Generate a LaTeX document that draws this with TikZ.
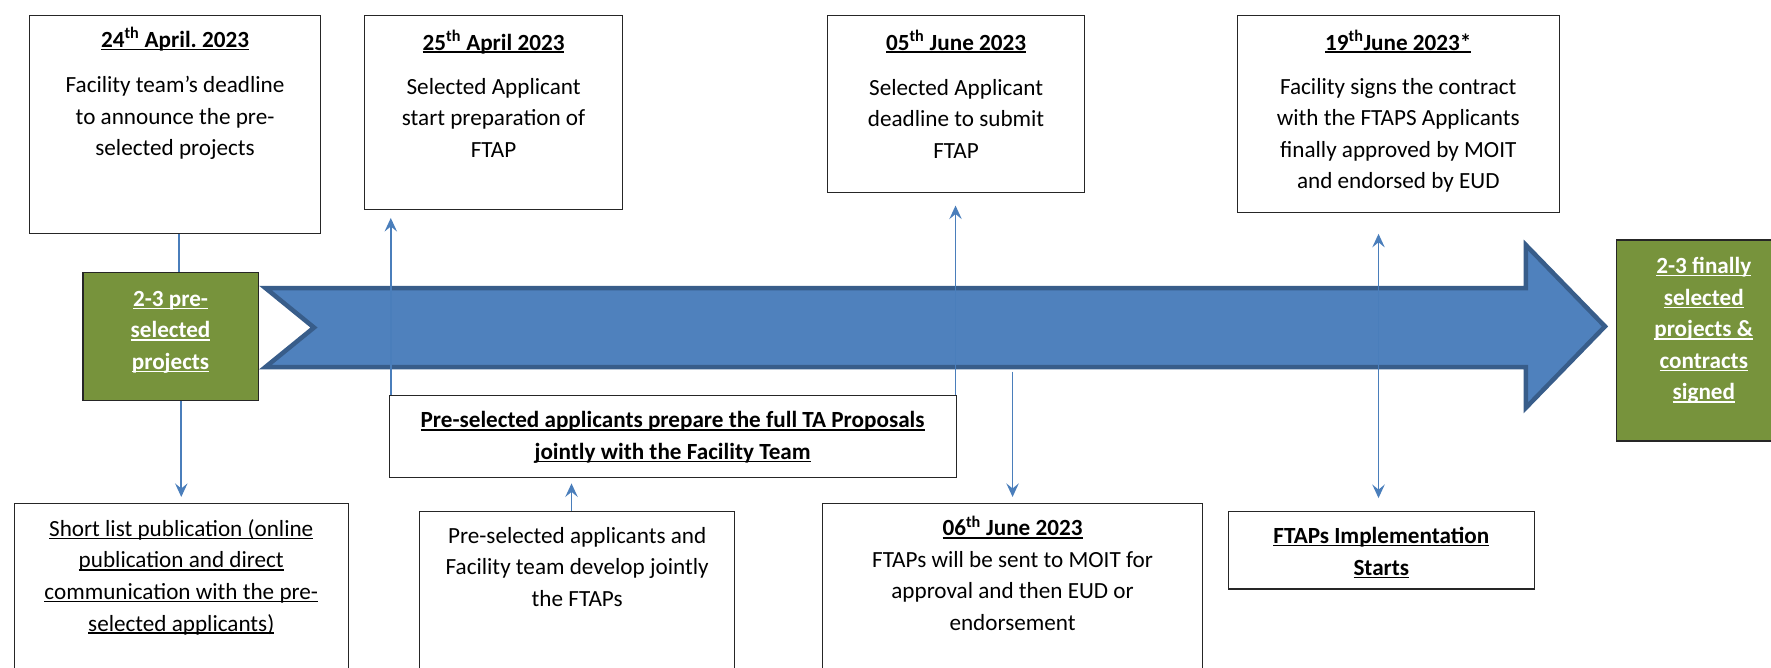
\documentclass[tikz,border=0pt]{standalone}
\usepackage{fontspec}
\setmainfont{Carlito}
\usepackage{tikz}
\usetikzlibrary{arrows.meta,positioning}
\definecolor{bandblue}{HTML}{4F81BD}
\definecolor{banddark}{HTML}{385D8A}
\definecolor{leafgreen}{HTML}{77933C}
\definecolor{linkblue}{HTML}{4A7EBB}
\tikzset{
  card/.style={draw=black!85,line width=1pt,anchor=north west,inner sep=0pt},
  leaf/.style={card,fill=leafgreen},
  txt/.style={inner sep=0pt,align=center,font=\fontsize{20.5}{28}\selectfont},
  link/.style={draw=linkblue,line width=1.4pt},
  arrow/.style={link,-{Stealth[length=12pt,width=11pt,inset=4.5pt]}}
}
\frenchspacing
\newcommand{\undl}[1]{\sbox0{#1}\rlap{\rule[-2.6pt]{\wd0}{1.3pt}}\usebox0}
\newcommand{\bul}[1]{\undl{\textbf{#1}}}
\newcommand{\dated}[2]{\undl{\textbf{#1\textsuperscript{th}#2}}}

\begin{document}
\begin{tikzpicture}[x=1pt,y=-1pt]
  % Page window
  \useasboundingbox (0,0) rectangle (1568,591);

  % Timeline band
  \draw[fill=bandblue,draw=banddark,line width=4pt,line join=miter]
    (235,255) -- (1351,255) -- (1351,217) -- (1421,289) -- (1351,361) -- (1351,325)
    -- (235,325) -- (278,290) -- cycle;
  \coordinate (band-bot) at (600,329);

  % Milestones above the band
  \node[card,minimum width=257pt,minimum height=193pt] (apr24) at (26,13) {};
  \node[txt,below=11pt of apr24.north] (apr24-txt)
    {\dated{24}{ April.\ 2023}\\[12pt] Facility team’s deadline\\ to announce the pre-\\ selected projects};

  \node[card,minimum width=229pt,minimum height=172pt] (apr25) at (322,13) {};
  \node[txt,below=13.5pt of apr25.north] (apr25-txt)
    {\dated{25}{ April 2023}\\[11pt] Selected Applicant\\ start preparation of\\ FTAP};

  \node[card,minimum width=228pt,minimum height=157pt] (jun05) at (732,13) {};
  \node[txt,below=13.5pt of jun05.north] (jun05-txt)
    {\dated{05}{ June 2023}\\[12pt] Selected Applicant\\ deadline to submit\\ FTAP};

  \node[card,minimum width=285pt,minimum height=175pt] (jun19) at (1095,13) {};
  \node[txt,below=13.5pt of jun19.north] (jun19-txt)
    {\dated{19}{June 2023*}\\[11pt] Facility signs the contract\\ with the FTAPS Applicants\\
     finally approved by MOIT\\ and endorsed by EUD};

  % Start and end of the band
  \node[leaf,minimum width=155pt,minimum height=113pt] (preproj) at (73,241) {};
  \node[txt,text=white,below=16.5pt of preproj.north] (preproj-txt)
    {\bul{2-3 pre-}\\ \bul{selected}\\ \bul{projects}};

  \node[leaf,minimum width=154pt,minimum height=178pt] (finalproj) at (1431,212) {};
  \node[txt,text=white,below=15.5pt of finalproj.north] (finalproj-txt)
    {\bul{2-3 finally}\\ \bul{selected}\\ \bul{projects \&}\\ \bul{contracts}\\ \bul{signed}};

  % Steps below the band
  \node[card,minimum width=296pt,minimum height=160pt] (shortlist) at (12,445) {};
  \node[txt,below=14.5pt of shortlist.north] (shortlist-txt)
    {\undl{Short list publication (online}\\ \undl{publication and direct}\\
     \undl{communication with the pre-}\\ \undl{selected applicants)}};

  \node[card,minimum width=502pt,minimum height=72pt] (prepare) at (344,350) {};
  \node[txt,below=14pt of prepare.north] (prepare-txt)
    {\bul{Pre-selected applicants prepare the full TA Proposals}\\ \bul{jointly with the Facility Team}};

  \node[card,minimum width=279pt,minimum height=150pt] (develop) at (371,452) {};
  \node[txt,below=14.5pt of develop.north] (develop-txt)
    {Pre-selected applicants and\\ Facility team develop jointly\\ the FTAPs};

  \node[card,minimum width=336pt,minimum height=160pt] (jun06) at (728,445) {};
  \node[txt,below=11.5pt of jun06.north] (jun06-txt)
    {\dated{06}{ June 2023}\\ FTAPs will be sent to MOIT for\\ approval and then EUD or\\ endorsement};

  \node[card,minimum width=271pt,minimum height=69pt] (implement) at (1087,452) {};
  \node[txt,below=14.5pt of implement.north] (implement-txt)
    {\bul{FTAPs Implementation}\\ \bul{Starts}};

  % Connectors
  \draw[link] ([xshift=3.5pt]apr24.south) -- ([xshift=3.5pt]apr24.south |- preproj.north);
  \draw[arrow,shorten >=5pt] (preproj.south -| shortlist.north) -- (shortlist.north);
  \draw[arrow,shorten >=7pt] ([xshift=2pt]prepare.north west) -- ([xshift=2pt]prepare.north west |- apr25.south);
  \draw[arrow,shorten >=11pt] ([xshift=-1pt]prepare.north east) -- ([xshift=-1pt]prepare.north east |- jun05.south);
  \draw[arrow,shorten >=5pt] ([xshift=-5pt]develop.north) -- ([xshift=-5pt]develop.north |- prepare.south);
  \draw[arrow,shorten >=5pt] (band-bot -| jun06.north) -- (jun06.north);
  \draw[link,{Stealth[length=12pt,width=11pt,inset=4.5pt]}-{Stealth[length=12pt,width=11pt,inset=4.5pt]},
        shorten <=18pt,shorten >=11pt]
    ([xshift=-2.5pt]implement.north |- jun19.south) -- ([xshift=-2.5pt]implement.north);
\end{tikzpicture}
\end{document}
